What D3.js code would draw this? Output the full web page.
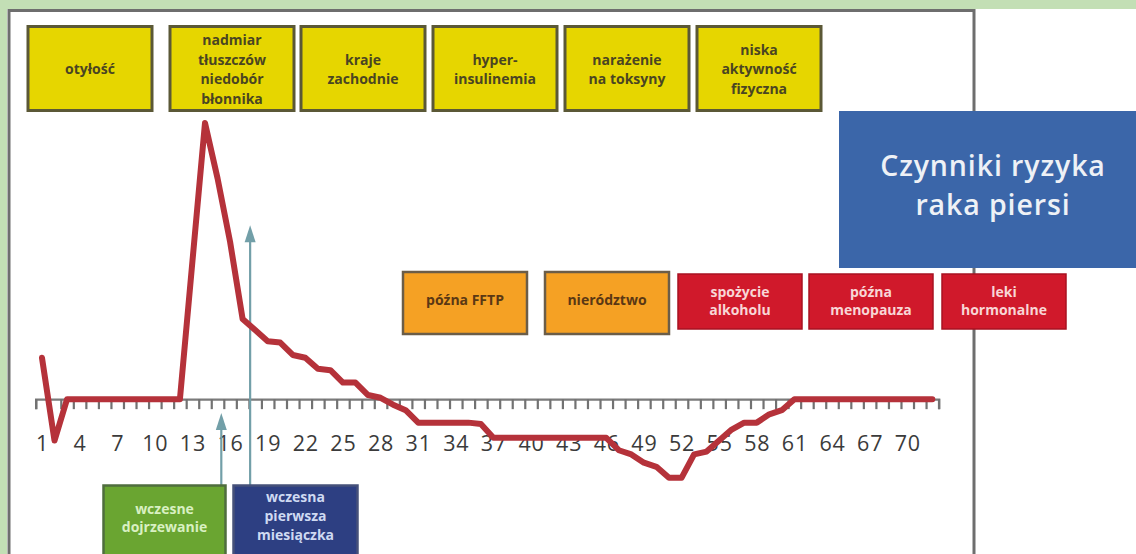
<!DOCTYPE html>
<html>
<head>
<meta charset="utf-8">
<script src="https://cdn.jsdelivr.net/npm/d3@7"></script>
<style>
  html, body { margin: 0; padding: 0; background: #ffffff; }
  svg { display: block; }
  text { font-family: "Open Sans", "Noto Sans", sans-serif; }
</style>
</head>
<body>
<svg id="chart" width="1136" height="554"></svg>
<script>
// ---- data ----
const ages = [1,2,3,4,5,6,7,8,9,10,11,12,13,14,15,16,17,18,19,20,21,22,23,24,25,26,27,28,29,30,31,32,33,34,35,36,
              37,38,39,40,41,42,43,44,45,46,47,48,49,50,51,52,53,54,55,56,57,58,59,60,61,62,63,64,65,66,67,68,69,70,71,72];
const riskValues = [1.5,-1.5,0,0,0,0,0,0,0,0,0,0,5.0,10,8.0,5.7,2.9,2.5,2.1,2.05,1.6,1.5,1.1,1.05,0.6,0.6,0.15,0.05,-0.2,-0.4,
                    -0.85,-0.85,-0.85,-0.85,-0.85,-0.9,-1.4,-1.4,-1.4,-1.4,-1.4,-1.4,-1.4,-1.4,-1.4,-1.4,
                    -1.85,-2.0,-2.3,-2.45,-2.85,-2.85,-2.0,-1.9,-1.5,-1.1,-0.85,-0.85,-0.55,-0.4,
                    0,0,0,0,0,0,0,0,0,0,0,0];
const tickLabels = [1,4,7,10,13,16,19,22,25,28,31,34,37,40,43,46,49,52,55,58,61,64,67,70];

const topFactors = [
  ["otyłość"],
  ["nadmiar","tłuszczów","niedobór","błonnika"],
  ["kraje","zachodnie"],
  ["hyper-","insulinemia"],
  ["narażenie","na toksyny"],
  ["niska","aktywność","fizyczna"]
];
const orangeFactors = [["późna FFTP"],["nierództwo"]];
const redFactors = [["spożycie","alkoholu"],["późna","menopauza"],["leki","hormonalne"]];
const bottomFactors = [["wczesne","dojrzewanie"],["wczesna","pierwsza","miesiączka"]];
const arrowAges = [15.3, 17.6];        // where the annotation arrows point on the age axis
const arrowTipValues = [-0.5, 6.3];    // arrow tip heights in chart units
const titleLines = ["Czynniki ryzyka","raka piersi"];

// ---- scales ----
const svg = d3.select("#chart");
const x = d3.scaleLinear().domain([0.5, 72.5]).range([35.7, 938.6]);
const y = d3.scaleLinear().domain([-3, 10]).range([482, 123]);

// ---- frame ----
svg.append("rect").attr("x",0).attr("y",0).attr("width",1136).attr("height",554).attr("fill","#ffffff");
svg.append("rect").attr("x",0).attr("y",0).attr("width",1136).attr("height",9).attr("fill","#c3dfb5");
svg.append("rect").attr("x",0).attr("y",0).attr("width",7).attr("height",554).attr("fill","#c3dfb5");
svg.append("path").attr("d","M9,554 V10.5 H974 V554").attr("fill","none").attr("stroke","#6e6e6e").attr("stroke-width",3);

// ---- helpers ----
function box(g, x0, y0, w, h, fill, stroke, sw, lines, color, fs, lh, cy) {
  g.append("rect").attr("x",x0).attr("y",y0).attr("width",w).attr("height",h)
    .attr("fill",fill).attr("stroke",stroke).attr("stroke-width",sw);
  const n = lines.length;
  const t = g.append("text").attr("text-anchor","middle").attr("fill",color)
    .attr("font-size",fs).attr("font-weight",700);
  lines.forEach((l,i)=>{
    t.append("tspan").attr("x", x0 + w/2)
      .attr("y", cy + (i - (n-1)/2)*lh).attr("dy","0.35em").text(l);
  });
}

// ---- top yellow boxes ----
const topX = [28,170,301,433,565,697];
const gTop = svg.append("g");
topFactors.forEach((lines,i)=>{
  box(gTop, topX[i], 26.5, 124, 84, "#e6d600", "#5b5836", 3, lines, "#4a4522", 14, 19.5, 69.5);
});

// ---- title box ----
svg.append("rect").attr("x",839).attr("y",111).attr("width",297).attr("height",157).attr("fill","#3b66a9");
titleLines.forEach((l,i)=>{
  svg.append("text").attr("text-anchor","middle").attr("fill","#eef1f6")
    .attr("font-size",28.5).attr("font-weight",600).attr("letter-spacing",0.9)
    .attr("x",993).attr("y",166 + i*39).attr("dy","0.35em").text(l);
});

// ---- orange & red boxes ----
const gMid = svg.append("g");
const orangeX = [403,545];
orangeFactors.forEach((lines,i)=>{
  box(gMid, orangeX[i], 272, 124, 62, "#f5a124", "#6b5d48", 2.5, lines, "#5a3814", 14, 19, 300);
});
const redX = [678,809,942];
redFactors.forEach((lines,i)=>{
  box(gMid, redX[i], 274, 124, 55, "#d0192b", "#a81222", 1.5, lines, "#f8d6d6", 14, 18.5, 301);
});

// ---- axis ----
const gAxis = svg.append("g").attr("transform",`translate(0,${y(0)})`);
gAxis.call(d3.axisBottom(x).tickValues(d3.range(0.5, 73, 1)).tickSize(10).tickFormat(""));
gAxis.select(".domain").attr("stroke","#7b7b7b").attr("stroke-width",2.4);
gAxis.selectAll(".tick line").attr("stroke","#727272").attr("stroke-width",2.2);

const gLab = svg.append("g").attr("transform",`translate(0,${y(0)})`);
gLab.call(d3.axisBottom(x).tickValues(tickLabels).tickSize(0).tickPadding(0).tickFormat(d3.format("d")));
gLab.select(".domain").remove();
gLab.selectAll(".tick text").attr("y",52).attr("dy","0").attr("font-size",21.5)
  .attr("font-family","'Open Sans', sans-serif").attr("fill","#3b3b3b").attr("letter-spacing",0.8);

// ---- arrows ----
const arrowColor = "#729fa8";
arrowAges.forEach((a,i)=>{
  const ax = x(a), tip = y(arrowTipValues[i]);
  svg.append("line").attr("x1",ax).attr("x2",ax).attr("y1",485).attr("y2",tip+12)
    .attr("stroke",arrowColor).attr("stroke-width",2.2);
  svg.append("path").attr("d",`M${ax},${tip} L${ax-5.5},${tip+17} L${ax+5.5},${tip+17} Z`).attr("fill",arrowColor);
});

// ---- risk line ----
const line = d3.line().x((d,i)=>x(ages[i])).y(d=>y(d));
svg.append("path").datum(riskValues).attr("d",line).attr("fill","none")
  .attr("stroke","#b5323a").attr("stroke-width",6).attr("stroke-linejoin","round").attr("stroke-linecap","round");

// ---- bottom boxes ----
const gBot = svg.append("g");
box(gBot, 103.5, 485.5, 122, 80, "#6aa531", "#4f6d3e", 2.5, bottomFactors[0], "#d9f0c2", 14, 18, 518);
box(gBot, 233.5, 485.5, 124, 80, "#2d3f82", "#46517a", 2.5, bottomFactors[1], "#cfdaf2", 14, 19, 516);
</script>
</body>
</html>
